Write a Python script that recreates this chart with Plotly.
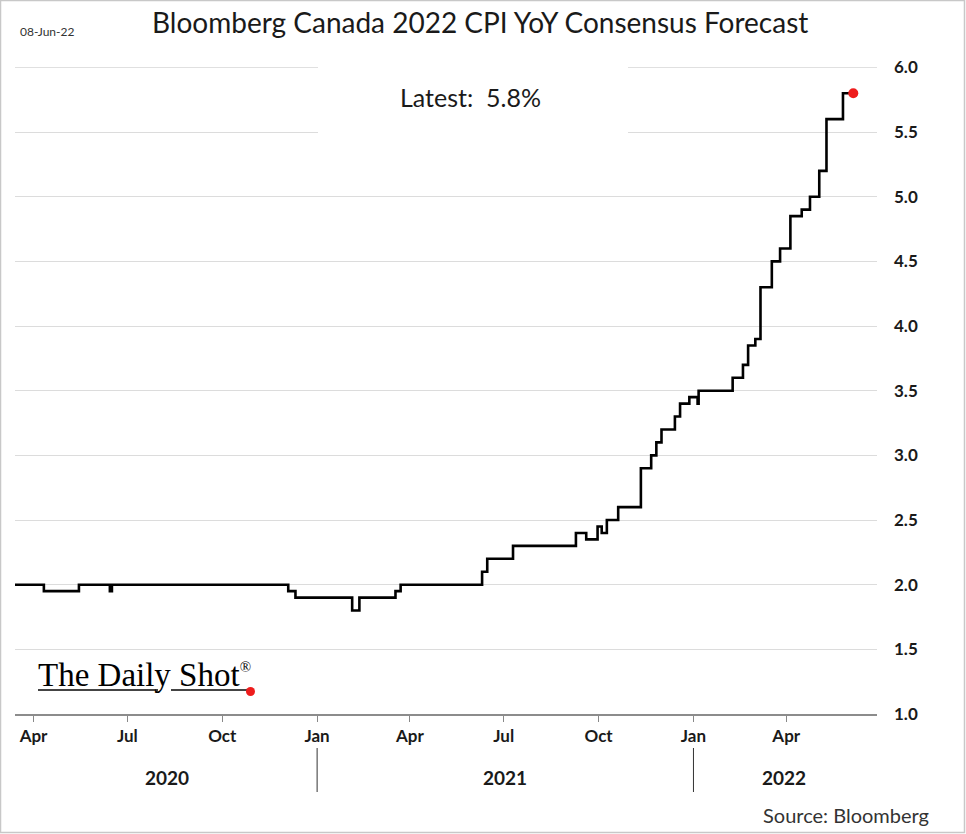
import plotly.graph_objects as go

# ---- data ----
dates = [
    "2020-03-14", "2020-04-11", "2020-05-15", "2020-06-14", "2020-06-16",
    "2020-12-04", "2020-12-11", "2021-02-04", "2021-02-11", "2021-03-18",
    "2021-03-23", "2021-06-10", "2021-06-15", "2021-07-10", "2021-09-09",
    "2021-09-19", "2021-09-30", "2021-10-04", "2021-10-09", "2021-10-20",
    "2021-11-11", "2021-11-21", "2021-11-26", "2021-12-01", "2021-12-14",
    "2021-12-19", "2021-12-28", "2022-01-05", "2022-01-06", "2022-02-08",
    "2022-02-18", "2022-02-23", "2022-03-02", "2022-03-07", "2022-03-18",
    "2022-03-26", "2022-04-05", "2022-04-16", "2022-04-24", "2022-05-03",
    "2022-05-10", "2022-05-26", "2022-06-05",
]
values = [
    2.0, 1.95, 2.0, 1.95, 2.0,
    1.95, 1.9, 1.8, 1.9, 1.95,
    2.0, 2.1, 2.2, 2.3, 2.4,
    2.35, 2.45, 2.4, 2.5, 2.6,
    2.9, 3.0, 3.1, 3.2, 3.3,
    3.4, 3.45, 3.4, 3.5, 3.6,
    3.7, 3.85, 3.9, 4.3, 4.5,
    4.6, 4.85, 4.9, 5.0, 5.2,
    5.6, 5.8, 5.8,
]
month_tickvals = ["2020-04-01", "2020-07-01", "2020-10-01", "2021-01-01", "2021-04-01",
                  "2021-07-01", "2021-10-01", "2022-01-01", "2022-04-01"]
month_ticktext = ["Apr", "Jul", "Oct", "Jan", "Apr", "Jul", "Oct", "Jan", "Apr"]
year_labels = ["2020", "2021", "2022"]
year_centers = ["2020-08-08", "2021-07-02", "2022-03-30"]
year_separators = ["2021-01-01", "2022-01-01"]
y_ticks = [1.0, 1.5, 2.0, 2.5, 3.0, 3.5, 4.0, 4.5, 5.0, 5.5, 6.0]
latest_value = values[-1]

W, H = 966, 834
L, R, T, B = 15, 877, 67, 714


def px(x):
    return (x - L) / (R - L)


def py(y):
    return (B - y) / (B - T)


FONT = "Lato"
GRID = "#dcdcdc"

fig = go.Figure()
fig.add_trace(go.Scatter(
    x=dates, y=values, mode="lines", line=dict(color="black", width=2.6, shape="hv"),
    hoverinfo="skip", showlegend=False,
))
fig.add_trace(go.Scatter(
    x=[dates[-1]], y=[values[-1]], mode="markers",
    marker=dict(color="#ee1c1c", size=10), showlegend=False, hoverinfo="skip",
))

shapes = []
# outer frame
shapes.append(dict(type="rect", xref="paper", yref="paper",
                   x0=px(0.5), x1=px(W - 1.5), y0=py(H - 1.5), y1=py(0.5),
                   line=dict(color="#c8c8c8", width=1.5), fillcolor="rgba(0,0,0,0)"))
# top gridline (at the edge of the plot area)
shapes.append(dict(type="line", xref="paper", yref="y", layer="below",
                   x0=0, x1=1, y0=y_ticks[-1], y1=y_ticks[-1],
                   line=dict(color=GRID, width=1)))
# white box behind "Latest" text (hides the grid there)
shapes.append(dict(type="rect", xref="paper", yref="paper", layer="above",
                   x0=px(318), x1=px(628), y0=py(140), y1=py(58),
                   line=dict(width=0), fillcolor="white"))
# year separators
for d in year_separators:
    shapes.append(dict(type="line", xref="x", yref="paper", x0=d, x1=d,
                       y0=py(748), y1=py(792), line=dict(color="#333333", width=1)))
# logo underline + red dot
shapes.append(dict(type="line", xref="paper", yref="paper", x0=px(38), x1=px(158),
                   y0=py(690), y1=py(690), line=dict(color="#444444", width=2)))
shapes.append(dict(type="line", xref="paper", yref="paper", x0=px(171), x1=px(248),
                   y0=py(690), y1=py(690), line=dict(color="#444444", width=2)))
shapes.append(dict(type="circle", xref="paper", yref="paper",
                   x0=px(246), x1=px(255), y0=py(696), y1=py(687),
                   line=dict(width=0), fillcolor="#ee1c1c"))

annotations = []
annotations.append(dict(text="Bloomberg Canada 2022 CPI YoY Consensus Forecast",
                        xref="paper", yref="paper", x=px(480), y=py(22),
                        xanchor="center", yanchor="middle", showarrow=False,
                        font=dict(family=FONT, size=28, color="#1a1a1a")))
annotations.append(dict(text="08-Jun-22", xref="paper", yref="paper", x=px(18), y=py(32),
                        xanchor="left", yanchor="middle", showarrow=False,
                        font=dict(family=FONT, size=12, color="#333333")))
annotations.append(dict(text=f"Latest:  {latest_value:.1f}%", xref="paper", yref="paper",
                        x=px(470), y=py(97), xanchor="center", yanchor="middle",
                        showarrow=False, font=dict(family=FONT, size=25, color="#1a1a1a")))
for lab, c in zip(year_labels, year_centers):
    annotations.append(dict(text=f"<b>{lab}</b>", xref="x", yref="paper", x=c, y=py(777),
                            xanchor="center", yanchor="middle", showarrow=False,
                            font=dict(family=FONT, size=19, color="#1a1a1a")))
annotations.append(dict(text="Source: Bloomberg", xref="paper", yref="paper", x=px(931),
                        y=py(815), xanchor="right", yanchor="middle", showarrow=False,
                        font=dict(family=FONT, size=20, color="#333333")))
annotations.append(dict(text="The Daily Shot<sup><span style='font-size:15px'>®</span></sup>",
                        xref="paper", yref="paper",
                        x=px(36), y=py(675), xanchor="left", yanchor="middle",
                        showarrow=False,
                        font=dict(family="Liberation Serif", size=33, color="#000000")))

fig.update_layout(
    width=W, height=H,
    margin=dict(l=L, r=W - R, t=T, b=H - B),
    paper_bgcolor="white", plot_bgcolor="white",
    shapes=shapes, annotations=annotations,
    xaxis=dict(
        type="date", range=["2020-03-14", "2022-06-28"],
        tickvals=month_tickvals, ticktext=[f"<b>{t}</b>" for t in month_ticktext],
        tickfont=dict(family=FONT, size=17, color="#1a1a1a"),
        ticks="outside", ticklen=6, tickcolor="#888888", tickwidth=1,
        showline=True, linecolor="#8c8c8c", linewidth=2,
        showgrid=False, zeroline=False, fixedrange=True,
    ),
    yaxis=dict(
        side="right", range=[1.0, 6.003], tickvals=y_ticks,
        ticktext=[f"<b>{v:.1f}</b>" for v in y_ticks],
        tickfont=dict(family=FONT, size=17, color="#1a1a1a"),
        ticks="", ticklabelstandoff=16,
        showgrid=True, gridcolor=GRID, gridwidth=1,
        showline=False, zeroline=False, fixedrange=True,
    ),
)

fig.write_html("out.html", config={"displayModeBar": False},
               post_script="document.body.style.margin='0';")
